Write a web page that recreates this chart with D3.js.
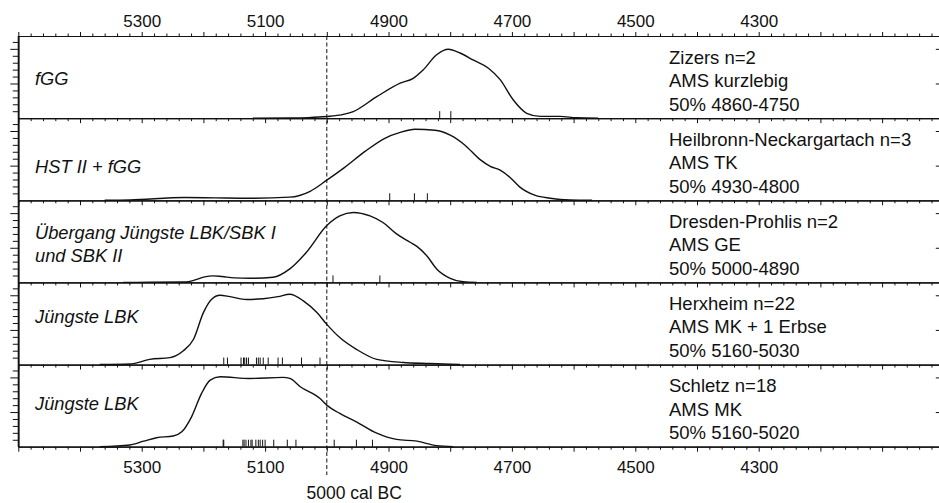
<!DOCTYPE html>
<html>
<head>
<meta charset="utf-8">
<script src="https://cdn.jsdelivr.net/npm/d3@7"></script>
<style>
html,body{margin:0;padding:0;background:#fff;}
svg{display:block;font-family:"Liberation Sans",Arial,Helvetica,sans-serif;}
</style>
</head>
<body>
<svg id="chart" width="939" height="503"></svg>
<script>
// ---------- data ----------
const axisTickLabels = [5300, 5100, 4900, 4700, 4500, 4300];
const refYear = 5000;
const refLabel = "5000 cal BC";

const panelLabels = [["fGG"], ["HST II + fGG"], ["Übergang Jüngste LBK/SBK I", "und SBK II"], ["Jüngste LBK"], ["Jüngste LBK"]];
const siteLines = [
  ["Zizers n=2", "AMS kurzlebig", "50% 4860-4750"],
  ["Heilbronn-Neckargartach n=3", "AMS TK", "50% 4930-4800"],
  ["Dresden-Prohlis n=2", "AMS GE", "50% 5000-4890"],
  ["Herxheim n=22", "AMS MK + 1 Erbse", "50% 5160-5030"],
  ["Schletz n=18", "AMS MK", "50% 5160-5020"]
];

// panel 1: Zizers
const years1 = [5120, 5060, 5030, 5000, 4975, 4957, 4919, 4881, 4860, 4844, 4822, 4803, 4784, 4763, 4738, 4719, 4698, 4676, 4654, 4622, 4595, 4560];
const dens1  = [0, 0.005, 0.015, 0.046, 0.1, 0.19, 0.62, 1.01, 1.15, 1.39, 1.83, 1.99, 1.88, 1.68, 1.44, 1.11, 0.53, 0.14, 0.05, 0.05, 0.01, 0];
const rug1 = [4817, 4799];

// panel 2: Heilbronn-Neckargartach
const years2 = [5360, 5319, 5230, 5181, 5125, 5060, 5027, 5000, 4971, 4938, 4906, 4881, 4857, 4825, 4800, 4776, 4752, 4735, 4719, 4703, 4687, 4662, 4638, 4606, 4570];
const dens2  = [0, 0.01, 0.08, 0.07, 0.06, 0.09, 0.26, 0.58, 0.95, 1.41, 1.79, 1.96, 2.05, 2.02, 1.88, 1.59, 1.18, 0.98, 0.87, 0.66, 0.38, 0.14, 0.06, 0.01, 0];
const rug2 = [4898, 4858, 4837];

// panel 3: Dresden-Prohlis
const years3 = [5330, 5286, 5230, 5212, 5198, 5184, 5170, 5150, 5125, 5087, 5060, 5033, 5000, 4979, 4957, 4930, 4909, 4887, 4865, 4854, 4838, 4822, 4800, 4779, 4757];
const dens3  = [0, 0.003, 0.01, 0.08, 0.16, 0.19, 0.17, 0.13, 0.12, 0.15, 0.39, 0.87, 1.64, 1.92, 2.02, 1.92, 1.73, 1.40, 1.16, 1.04, 0.77, 0.39, 0.12, 0.02, 0];
const rug3 = [4990, 4914];

// panel 4: Herxheim
const years4 = [5368, 5319, 5287, 5254, 5233, 5216, 5200, 5187, 5173, 5157, 5130, 5103, 5079, 5060, 5038, 5016, 5000, 4979, 4952, 4919, 4876, 4833, 4784];
const dens4  = [0, 0.015, 0.15, 0.2, 0.39, 0.73, 1.50, 1.88, 2.0, 1.96, 1.88, 1.90, 1.96, 2.03, 1.84, 1.50, 1.16, 0.78, 0.44, 0.15, 0.06, 0.03, 0];
const rug4 = [5167, 5161, 5139, 5135, 5133, 5130, 5127, 5114, 5111, 5108, 5103, 5095, 5079, 5072, 5041, 5011];

// panel 5: Schletz
const years5 = [5368, 5319, 5297, 5276, 5249, 5235, 5219, 5203, 5189, 5173, 5125, 5071, 5060, 5043, 5011, 5000, 4979, 4952, 4919, 4887, 4854, 4822, 4795];
const dens5  = [0, 0.05, 0.16, 0.26, 0.31, 0.43, 0.87, 1.54, 1.92, 2.02, 1.97, 2.0, 1.97, 1.73, 1.39, 1.20, 0.96, 0.72, 0.39, 0.21, 0.16, 0.03, 0];
const rug5 = [5168, 5167, 5136, 5134, 5131, 5127, 5123, 5121, 5115, 5111, 5108, 5104, 5100, 5086, 5064, 5050, 4988, 4952, 4926];

const panelYears = [years1, years2, years3, years4, years5];
const panelDens = [dens1, dens2, dens3, dens4, dens5];
const panelRugs = [rug1, rug2, rug3, rug4, rug5];

// ---------- layout ----------
const left = 18.3, right = 943.8;
const top0 = 36, bottom0 = 446.7;
const nP = 5;
const pH = (bottom0 - top0) / nP;
const yMax = 2.371;
const labelOffsets = [[49], [55], [38.5, 61.5], [41], [45.5]];
const siteOffsets = [27.5, 51, 74.5];

const svg = d3.select("#chart");
const x = d3.scaleLinear().domain([5500, 4000]).range([left, right]);
const majorYears = d3.range(5500, 3999, -100);
const minorYears = d3.range(5500, 3999, -20).filter(v => v % 100 !== 0);

const ink = "#111";

// top axis
svg.append("g").attr("transform", `translate(0,${top0})`)
  .call(d3.axisTop(x).tickValues(minorYears).tickSize(2.5).tickFormat("").tickSizeOuter(0));
const gTop = svg.append("g").attr("transform", `translate(0,${top0})`)
  .call(d3.axisTop(x).tickValues(majorYears).tickSize(4).tickSizeOuter(0)
    .tickFormat(d => axisTickLabels.includes(d) ? d : ""));
gTop.selectAll("text").attr("y", -8.7).attr("dy", 0);

// panels
for (let i = 0; i < nP; i++) {
  const pt = top0 + i * pH, pb = pt + pH;
  const y = d3.scaleLinear().domain([0, yMax]).range([pb, pt]);

  svg.append("g").attr("transform", `translate(0,${pb})`)
    .call(d3.axisBottom(x).tickValues(minorYears).tickSize(3).tickFormat("").tickSizeOuter(0));
  const gb = svg.append("g").attr("transform", `translate(0,${pb})`)
    .call(d3.axisBottom(x).tickValues(majorYears).tickSize(5).tickSizeOuter(0)
      .tickFormat(d => (i === nP - 1 && axisTickLabels.includes(d)) ? d : ""));
  gb.selectAll("text").attr("y", 26).attr("dy", 0);

  const yMinor = d3.range(1, 12).map(k => k * 0.2).filter(v => Math.abs(v - 1) > 1e-6 && Math.abs(v - 2) > 1e-6);
  svg.append("g").attr("transform", `translate(${left},0)`)
    .call(d3.axisLeft(y).tickValues(yMinor).tickSize(5.5).tickFormat("").tickSizeOuter(0));
  svg.append("g").attr("transform", `translate(${left},0)`)
    .call(d3.axisLeft(y).tickValues([1, 2]).tickSize(8).tickFormat("").tickSizeOuter(0));
  svg.append("g").attr("transform", `translate(${right},0)`)
    .call(d3.axisRight(y).tickValues([1, 2]).tickSize(-8).tickFormat("").tickSizeOuter(0));

  const pts = panelYears[i].map((yr, k) => [yr, panelDens[i][k]]);
  svg.append("path")
    .datum(pts)
    .attr("fill", "none")
    .attr("stroke", ink)
    .attr("stroke-width", 1.4)
    .attr("d", d3.line().x(d => x(d[0])).y(d => y(d[1])).curve(d3.curveMonotoneX));

  svg.append("g").selectAll("line").data(panelRugs[i]).join("line")
    .attr("x1", d => x(d)).attr("x2", d => x(d))
    .attr("y1", pb).attr("y2", pb - 7)
    .attr("stroke", ink).attr("stroke-width", 1);

  panelLabels[i].forEach((t, k) => {
    svg.append("text").attr("x", 35).attr("y", pt + labelOffsets[i][k])
      .attr("font-size", 18.3).attr("font-style", "italic").attr("fill", ink).text(t);
  });
  siteLines[i].forEach((t, k) => {
    svg.append("text").attr("x", 669).attr("y", pt + siteOffsets[k])
      .attr("font-size", 18.5).attr("fill", ink).text(t);
  });
}

svg.selectAll(".domain").attr("stroke", ink).attr("stroke-width", 1.2);
svg.selectAll(".tick line").attr("stroke", ink).attr("stroke-width", 1);
svg.selectAll(".tick text").attr("font-size", 17).attr("fill", ink)
  .attr("font-family", "'Liberation Sans',Arial,sans-serif");

svg.append("line").attr("x1", left).attr("x2", left).attr("y1", top0).attr("y2", bottom0)
  .attr("stroke", ink).attr("stroke-width", 1.2);

svg.append("line").attr("x1", x(refYear)).attr("x2", x(refYear))
  .attr("y1", top0).attr("y2", 475)
  .attr("stroke", ink).attr("stroke-width", 1).attr("stroke-dasharray", "4,2.5");
svg.append("text").attr("x", x(refYear) - 20.3).attr("y", 499)
  .attr("font-size", 17.5).attr("fill", ink).text(refLabel);
</script>
</body>
</html>
